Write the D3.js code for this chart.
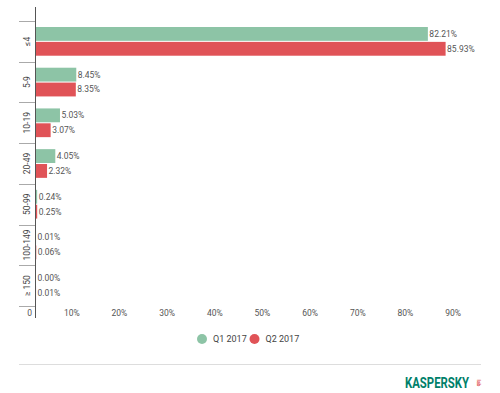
<!DOCTYPE html>
<html>
<head>
<meta charset="utf-8">
<script src="https://d3js.org/d3.v7.min.js"></script>
<style>
body { margin: 0; background: #fff; }
text { font-family: Roboto, "Noto Sans", sans-serif; }
</style>
</head>
<body>
<script>

var width = 500,
	height = 393;

var categories = ["≤4", "5-9", "10-19", "20-49", "50-99", "100-149", "≥ 150"];
var seriesNames = ["Q1 2017", "Q2 2017"];
var q1 = [82.21, 8.45, 5.03, 4.05, 0.24, 0.01, 0.00];
var q2 = [85.93, 8.35, 3.07, 2.32, 0.25, 0.06, 0.01];
var xTicks = [0, 10, 20, 30, 40, 50, 60, 70, 80, 90];
var colors = ["#8dc4a6", "#e05357"];

var svg = d3.select("body").append("svg")
	.attr("width", width)
	.attr("height", height)
	.style("display", "block");

var x = d3.scaleLinear()
	.domain([0, 90])
	.range([36, 465]);

var y = d3.scaleBand()
	.domain(categories)
	.range([21, 306])
	.paddingInner(0);

var sub = d3.scaleBand()
	.domain(seriesNames)
	.range([6, y.bandwidth() - 6])
	.paddingInner(0.07);

var rows = categories.map(function(c, i) {
	return { cat: c, values: [q1[i], q2[i]] };
});

// category separators
svg.selectAll(".sep")
	.data(categories.concat(["end"]))
	.enter().append("line")
	.attr("x1", 19)
	.attr("x2", 35)
	.attr("y1", function(d, i) { return Math.round(21 + i * y.bandwidth()) + 0.5; })
	.attr("y2", function(d, i) { return Math.round(21 + i * y.bandwidth()) + 0.5; })
	.attr("stroke", "#aaa")
	.attr("stroke-width", 1);

var g = svg.selectAll(".row")
	.data(rows)
	.enter().append("g")
	.attr("transform", function(d) { return "translate(0," + y(d.cat) + ")"; });

g.selectAll("rect")
	.data(function(d) { return d.values; })
	.enter().append("rect")
	.attr("x", x(0))
	.attr("y", function(d, i) { return sub(seriesNames[i]); })
	.attr("width", function(d) { return x(d) - x(0); })
	.attr("height", sub.bandwidth())
	.attr("fill", function(d, i) { return colors[i]; });

g.selectAll(".val")
	.data(function(d) { return d.values; })
	.enter().append("text")
	.attr("x", function(d) { return x(d) + 1.5; })
	.attr("y", function(d, i) { return sub(seriesNames[i]) + sub.bandwidth() / 2; })
	.attr("dy", "0.35em")
	.attr("font-size", 8.5)
	.attr("fill", "#555")
	.text(function(d) { return d.toFixed(2) + "%"; });

// category labels, rotated
g.append("text")
	.attr("transform", function(d) { return "translate(30," + (y.bandwidth() / 2) + ") rotate(-90)"; })
	.attr("text-anchor", "middle")
	.attr("font-size", 8.5)
	.attr("fill", "#444")
	.text(function(d) { return d.cat; });

// axis line
svg.append("line")
	.attr("x1", 35.5)
	.attr("x2", 35.5)
	.attr("y1", 7)
	.attr("y2", 318)
	.attr("stroke", "#555")
	.attr("stroke-width", 1);

// x tick labels
svg.selectAll(".xt")
	.data(xTicks)
	.enter().append("text")
	.attr("x", function(d) { return x(d) - 4; })
	.attr("y", 313)
	.attr("dy", "0.35em")
	.attr("text-anchor", "end")
	.attr("font-size", 8.5)
	.attr("fill", "#555")
	.text(function(d) { return d === 0 ? "0" : d + "%"; });

// legend
var legend = svg.selectAll(".leg")
	.data(seriesNames)
	.enter().append("g")
	.attr("transform", function(d, i) { return "translate(" + (202 + i * 52.5) + ",339)"; });

legend.append("circle")
	.attr("r", 5)
	.attr("fill", function(d, i) { return colors[i]; });

legend.append("text")
	.attr("x", 11)
	.attr("dy", "0.35em")
	.attr("font-size", 9)
	.attr("fill", "#444")
	.text(function(d) { return d; });

// footer rule
svg.append("line")
	.attr("x1", 19)
	.attr("x2", 481)
	.attr("y1", 364.5)
	.attr("y2", 364.5)
	.attr("stroke", "#ddd");

// logo
svg.append("text")
	.attr("x", 405)
	.attr("y", 388)
	.attr("font-size", 14)
	.attr("font-weight", "bold")
	.attr("fill", "#00806a")
	.attr("textLength", 64)
	.attr("lengthAdjust", "spacingAndGlyphs")
	.text("KASPERSKY");

svg.append("text")
	.attr("transform", "translate(477,383) rotate(90)")
	.attr("text-anchor", "middle")
	.attr("font-size", 5)
	.attr("font-weight", "bold")
	.attr("fill", "#e05357")
	.text("lab");

</script>
</body>
</html>
